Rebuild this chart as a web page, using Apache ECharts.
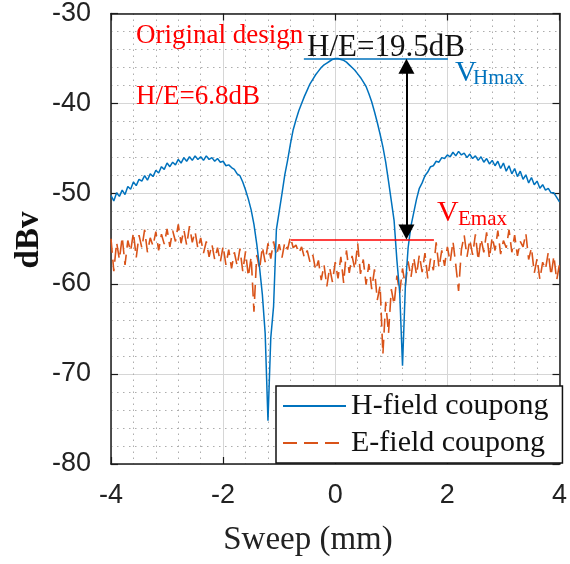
<!DOCTYPE html>
<html>
<head>
<meta charset="utf-8">
<script src="https://cdn.jsdelivr.net/npm/echarts@6/dist/echarts.min.js"></script>
<style>html,body{margin:0;padding:0;background:#fff;}#c{width:570px;height:564px;}</style>
</head>
<body>
<div id="c"></div>
<script>
// Sweep positions (mm)
const xs = [-4.00,-3.95,-3.90,-3.85,-3.80,-3.75,-3.70,-3.65,-3.60,-3.55,-3.50,-3.45,-3.40,-3.35,-3.30,-3.25,-3.20,-3.15,-3.10,-3.05,
-3.00,-2.95,-2.90,-2.85,-2.80,-2.75,-2.70,-2.65,-2.60,-2.55,-2.50,-2.45,-2.40,-2.35,-2.30,-2.25,-2.20,-2.15,-2.10,-2.05,
-2.00,-1.95,-1.90,-1.85,-1.80,-1.75,-1.70,-1.65,-1.60,-1.55,-1.50,-1.45,-1.40,-1.35,-1.30,-1.25,-1.20,-1.15,-1.10,-1.05,
-1.00,-0.95,-0.90,-0.85,-0.80,-0.75,-0.70,-0.65,-0.60,-0.55,-0.50,-0.45,-0.40,-0.35,-0.30,-0.25,-0.20,-0.15,-0.10,-0.05,
0.00,0.05,0.10,0.15,0.20,0.25,0.30,0.35,0.40,0.45,0.50,0.55,0.60,0.65,0.70,0.75,0.80,0.85,0.90,0.95,
1.00,1.05,1.10,1.15,1.20,1.25,1.30,1.35,1.40,1.45,1.50,1.55,1.60,1.65,1.70,1.75,1.80,1.85,1.90,1.95,
2.00,2.05,2.10,2.15,2.20,2.25,2.30,2.35,2.40,2.45,2.50,2.55,2.60,2.65,2.70,2.75,2.80,2.85,2.90,2.95,
3.00,3.05,3.10,3.15,3.20,3.25,3.30,3.35,3.40,3.45,3.50,3.55,3.60,3.65,3.70,3.75,3.80,3.85,3.90,3.95,4.00];

// H-field coupling (dBv)
const hField = [-50.2,-50.8,-49.9,-50.3,-49.6,-50.1,-49.2,-49.5,-48.7,-49.1,-48.4,-48.6,-48.0,-48.5,-47.8,-48.1,-47.4,-47.7,-47.0,-47.3,
-46.6,-47.0,-46.5,-46.8,-46.2,-46.6,-46.0,-46.4,-45.9,-46.3,-45.8,-46.2,-45.9,-46.3,-45.8,-46.2,-46.0,-46.4,-46.1,-46.5,
-46.4,-46.9,-46.8,-47.1,-47.3,-47.8,-48.0,-48.7,-49.6,-50.6,-51.8,-53.4,-55.6,-58.2,-61.2,-65.5,-75.2,-66.0,-62.5,-54.0,
-52.0,-50.0,-47.9,-46.3,-44.5,-42.9,-41.8,-40.8,-40.0,-39.2,-38.5,-37.8,-37.3,-36.8,-36.4,-36.0,-35.7,-35.5,-35.3,-35.1,
-35.0,-35.0,-35.1,-35.2,-35.4,-35.7,-36.0,-36.3,-36.7,-37.1,-37.6,-38.1,-38.9,-39.8,-40.9,-42.1,-43.4,-44.8,-46.5,-48.6,
-50.8,-53.0,-57.4,-61.0,-69.1,-60.4,-56.0,-53.6,-52.1,-50.6,-49.4,-48.8,-48.0,-47.6,-47.0,-46.9,-46.4,-46.5,-46.0,-46.1,
-45.7,-45.9,-45.4,-45.8,-45.3,-45.7,-45.5,-46.0,-45.6,-46.1,-45.8,-46.3,-45.9,-46.5,-46.1,-46.7,-46.3,-46.9,-46.4,-47.2,
-46.6,-47.5,-46.9,-47.8,-47.2,-48.1,-47.5,-48.4,-47.9,-48.8,-48.2,-49.0,-48.6,-49.4,-49.0,-49.6,-49.4,-49.9,-49.9,-50.4,-50.9];

// E-field coupling (dBv)
const eField = [-55.0,-58.6,-55.4,-57.3,-54.8,-57.9,-55.2,-56.4,-54.3,-57.1,-54.6,-56.0,-54.0,-56.5,-54.9,-55.8,-54.2,-56.3,-54.5,-55.6,
-53.9,-55.9,-54.1,-55.3,-53.4,-55.5,-54.0,-55.7,-53.6,-55.4,-54.2,-56.1,-54.9,-56.6,-55.3,-57.0,-55.6,-57.3,-56.0,-57.6,
-55.8,-57.9,-56.2,-58.3,-56.5,-58.0,-56.1,-58.6,-56.4,-59.2,-57.0,-63.1,-56.8,-58.4,-55.9,-57.6,-55.5,-57.2,-55.3,-56.9,
-55.6,-57.1,-55.4,-56.2,-54.8,-56.0,-55.7,-56.6,-55.9,-57.1,-56.3,-57.6,-56.8,-58.5,-57.4,-59.6,-57.9,-60.3,-58.2,-59.8,
-57.6,-59.4,-57.0,-59.9,-56.3,-58.8,-56.9,-58.4,-55.5,-58.9,-57.3,-60.1,-57.8,-60.6,-58.4,-61.8,-60.2,-67.8,-62.0,-65.5,
-60.6,-62.3,-59.1,-61.0,-58.3,-60.2,-57.5,-59.3,-57.1,-59.0,-56.8,-58.7,-56.6,-59.4,-57.2,-58.5,-55.4,-58.2,-56.3,-58.0,
-55.9,-57.6,-55.3,-57.9,-60.8,-56.2,-54.6,-57.0,-55.1,-56.8,-54.5,-57.4,-55.0,-56.5,-54.3,-57.2,-54.8,-56.3,-54.1,-56.7,
-55.2,-56.0,-54.0,-56.5,-54.6,-56.9,-55.3,-55.9,-54.4,-57.3,-56.0,-58.8,-57.2,-59.5,-57.6,-58.4,-56.5,-59.1,-56.9,-59.6,-57.8];

const seriesNames = ['H-field coupong', 'E-field coupong'];
const xTicks = {min: -4, max: 4, interval: 2};
const yTicks = {min: -80, max: -30, interval: 10};

// annotation levels
const vHmax = -35.0;
const vEmax = -55.1;
const hLineSpan = [-0.56, 2.01];
const eLineSpan = [-0.79, 1.76];
const arrowX = 1.27;

const BLUE = '#0072BD';
const ORANGE = '#D95319';
const RED = '#FF0000';
const SERIF = '"Liberation Serif", "Times New Roman", serif';
const SANS = '"Liberation Sans", Arial, sans-serif';

const hData = xs.map((x, i) => [x, hField[i]]);
const eData = xs.map((x, i) => [x, eField[i]]);

const chart = echarts.init(document.getElementById('c'), null, {renderer: 'canvas'});

const frameLine = {show: true, onZero: false, lineStyle: {color: '#1a1a1a', width: 1.5}};
const inTick = {show: true, inside: true, length: 7, lineStyle: {color: '#1a1a1a', width: 1.2}};

chart.setOption({
  animation: false,
  backgroundColor: '#ffffff',
  grid: {left: 111, right: 8, top: 13, bottom: 100, containLabel: false},
  xAxis: [
    {type: 'value', position: 'bottom', min: xTicks.min, max: xTicks.max, interval: xTicks.interval,
     axisLine: frameLine, axisTick: inTick,
     axisLabel: {fontFamily: SANS, fontSize: 27, color: '#222', margin: 18},
     splitLine: {show: true, lineStyle: {color: '#d6d6d6', width: 1}},
     minorTick: {show: false, splitNumber: 5},
     minorSplitLine: {show: true, lineStyle: {color: '#adadad', width: 1, type: [1.5, 4.5]}}},
    {type: 'value', position: 'top', min: xTicks.min, max: xTicks.max, interval: xTicks.interval,
     axisLine: frameLine, axisTick: inTick, axisLabel: {show: false}, splitLine: {show: false}}
  ],
  yAxis: [
    {type: 'value', position: 'left', min: yTicks.min, max: yTicks.max, interval: yTicks.interval,
     axisLine: frameLine, axisTick: inTick,
     axisLabel: {fontFamily: SANS, fontSize: 27, color: '#222', margin: 20, padding: [6, 0, 0, 0]},
     splitLine: {show: true, lineStyle: {color: '#d6d6d6', width: 1}},
     minorTick: {show: false, splitNumber: 5},
     minorSplitLine: {show: true, lineStyle: {color: '#adadad', width: 1, type: [1.5, 4.5]}}},
    {type: 'value', position: 'right', min: yTicks.min, max: yTicks.max, interval: yTicks.interval,
     axisLine: frameLine, axisTick: inTick, axisLabel: {show: false}, splitLine: {show: false}}
  ],
  legend: {
    left: 276, top: 386, orient: 'vertical',
    data: seriesNames,
    itemWidth: 63, itemHeight: 14, itemGap: 5,
    padding: [4, 14, 4, 6],
    backgroundColor: '#ffffff', borderColor: '#111', borderWidth: 1.5, borderRadius: 0,
    itemStyle: {opacity: 0},
    textStyle: {fontFamily: SERIF, fontSize: 30, color: '#111', lineHeight: 32},
    z: 10
  },
  series: [
    {name: seriesNames[1], type: 'line', data: eData, showSymbol: false, symbol: 'none',
     lineStyle: {color: ORANGE, width: 1.6, type: [14, 7]}, itemStyle: {color: ORANGE}, z: 2},
    {name: seriesNames[0], type: 'line', data: hData, showSymbol: false, symbol: 'none',
     lineStyle: {color: BLUE, width: 1.5}, itemStyle: {color: BLUE}, z: 3,
     markLine: {
       silent: true, symbol: 'none', animation: false, label: {show: false},
       data: [
         [{coord: [hLineSpan[0], vHmax], lineStyle: {color: BLUE, width: 1.5, type: 'solid'}}, {coord: [hLineSpan[1], vHmax]}],
         [{coord: [eLineSpan[0], vEmax], lineStyle: {color: RED, width: 1.5, type: 'solid'}}, {coord: [eLineSpan[1], vEmax]}],
         [{coord: [arrowX, vHmax - 0.85], symbol: 'triangle', symbolSize: [16, 15], lineStyle: {color: '#000', width: 2, type: 'solid'}, itemStyle: {color: '#000'}},
          {coord: [arrowX, vEmax + 0.85], symbol: 'triangle', symbolSize: [16, 15]}]
       ]
     }}
  ],
  graphic: [
    {type: 'text', x: 136, y: 36, style: {text: 'Original design', font: '27px ' + SERIF, fill: RED, textVerticalAlign: 'middle'}, z: 20},
    {type: 'text', x: 136, y: 97, style: {text: 'H/E=6.8dB', font: '27px ' + SERIF, fill: RED, textVerticalAlign: 'middle'}, z: 20},
    {type: 'text', x: 307, y: 48, style: {text: 'H/E=19.5dB', font: '31px ' + SERIF, fill: '#111', textVerticalAlign: 'middle'}, z: 20},
    {type: 'text', x: 455, y: 73, style: {text: 'V', font: '30px ' + SERIF, fill: BLUE, textVerticalAlign: 'middle'}, z: 20},
    {type: 'text', x: 473, y: 78, style: {text: 'Hmax', font: '21px ' + SERIF, fill: BLUE, textVerticalAlign: 'middle'}, z: 20},
    {type: 'text', x: 437, y: 213, style: {text: 'V', font: '30px ' + SERIF, fill: RED, textVerticalAlign: 'middle'}, z: 20},
    {type: 'text', x: 458, y: 219, style: {text: 'Emax', font: '21px ' + SERIF, fill: RED, textVerticalAlign: 'middle'}, z: 20},
    {type: 'text', x: 29, y: 240, rotation: Math.PI / 2, style: {text: 'dBv', font: 'bold 33px ' + SERIF, fill: '#111', textAlign: 'center', textVerticalAlign: 'middle'}, z: 20},
    {type: 'text', x: 308, y: 540, style: {text: 'Sweep (mm)', font: '33px ' + SERIF, fill: '#222', textAlign: 'center', textVerticalAlign: 'middle'}, z: 20}
  ]
});
</script>
</body>
</html>
